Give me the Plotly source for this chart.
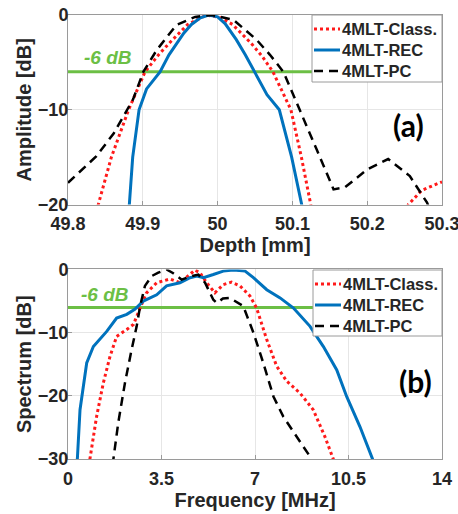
import plotly.graph_objects as go
from plotly.subplots import make_subplots

# ---------- Panel (a): axial profile ----------
rec_a_depth = [49.878, 49.882, 49.8865, 49.895, 49.905, 49.923, 49.935, 49.945, 49.955, 49.965, 49.977, 49.988,
               50.0, 50.01, 50.025, 50.037, 50.049, 50.066, 50.0825, 50.099, 50.1124, 50.116]
rec_a_db = [-22, -20, -15, -10, -7.8, -6, -4.2, -3, -1.9, -1, -0.3, 0,
            -0.2, -0.9, -2.6, -4.2, -6, -8.4, -10, -15, -20, -22]

cls_a_depth = [49.836, 49.8405, 49.858, 49.881, 49.903, 49.92, 49.935, 49.96, 49.985,
               50.005, 50.02, 50.045, 50.06, 50.074, 50.098, 50.112, 50.1245, 50.128,
               50.252, 50.255, 50.273, 50.288, 50.3]
cls_a_db = [-22, -20, -15, -10, -6, -4.3, -3, -1, 0,
            -0.3, -1, -3, -4.4, -6, -10, -15, -20, -22,
            -21, -20, -18.5, -18, -17.6]

pc_a_depth = [49.8, 49.838, 49.861, 49.887, 49.9007, 49.9186, 49.945, 49.97, 49.992, 50.021, 50.052,
              50.07, 50.088, 50.11, 50.1325, 50.155, 50.17, 50.2, 50.228, 50.257, 50.28, 50.286]
pc_a_db = [-17.7, -14.9, -12.5, -8.9, -6, -3.7, -1.05, -0.2, 0, -0.5, -2.6,
           -4.2, -6, -10, -14.2, -18.4, -18.2, -16.3, -15.2, -17, -19.8, -21]

# ---------- Panel (b): spectrum ----------
rec_b_f = [0.33, 0.35, 0.45, 0.7, 0.95, 1.45, 1.82, 2.2, 2.5, 2.82, 3.32, 3.69, 4.19, 4.57, 4.82, 5.07,
           5.44, 5.81, 6.19, 6.63, 6.94, 7.44, 7.94, 8.44, 9.06, 9.56, 10.06, 10.43, 10.93, 11.4, 11.45]
rec_b_db = [-31, -30, -22.2, -14.8, -12.2, -9.8, -7.7, -7.1, -6.3, -5.0, -4.0, -2.6, -2.1, -1.3, -1.05, -1.3,
            -0.8, -0.26, -0.1, -0.26, -1.3, -3.2, -4.5, -6.1, -9.0, -12.2, -15.9, -20.1, -24.9, -30, -31]

cls_b_f = [0.8, 0.82, 1.07, 1.32, 1.57, 1.82, 2.2, 2.45, 2.7, 2.94, 3.32, 3.82, 4.19, 4.5, 4.75, 4.94,
           5.19, 5.5, 5.81, 6.12, 6.44, 6.81, 7.06, 7.44, 7.81, 8.19, 8.69, 9.18, 9.62, 9.93, 9.97]
cls_b_db = [-31, -30, -23.3, -18, -13.8, -10.6, -9.5, -8.7, -6.1, -3.7, -2.1, -1.5, -2.1, -1.05, -0.1, -0.5,
            -2.1, -3.7, -2.4, -2.0, -2.6, -4.2, -6.1, -11.1, -15.3, -17.7, -19.6, -22.2, -26.5, -30, -31]

pc_b_f = [1.68, 1.70, 1.88, 2.13, 2.38, 2.57, 2.7, 2.88, 3.13, 3.38, 3.69, 3.94, 4.25, 4.62, 4.88, 5.13,
          5.44, 5.57, 5.8, 6.06, 6.56, 6.94, 7.31, 7.69, 8.06, 8.56, 9.12, 9.2]
pc_b_db = [-31, -30, -24.3, -18, -12.7, -9.0, -5.8, -2.6, -1.05, -0.5, 0, -0.6, -1.6, -1.05, -0.8, -2.1,
           -4.8, -5.3, -4.6, -4.5, -5.8, -10, -14.8, -20.1, -23.3, -26.5, -30, -31]

names = ["4MLT-Class.", "4MLT-REC", "4MLT-PC"]
x_ticks_a = [49.8, 49.9, 50, 50.1, 50.2, 50.3]
x_ticks_b = [0, 3.5, 7, 10.5, 14]

RED = "#ff1a1a"
BLUE = "#0072BD"
BLACK = "#000000"
GREEN = "#6cbf45"
AX = "#262626"
FRAME = "#9a9a9a"
FONT = "Liberation Sans"

W, H = 458, 514
ML, MR, MT, MB = 68, 16, 15, 55
PW, PH = W - ML - MR, H - MT - MB

fig = make_subplots(rows=2, cols=1, vertical_spacing=0.1463)

styles = [(RED, "dot", 3), (BLUE, "solid", 3), (BLACK, "9px,6px", 2.5)]

def add(x, y, k, row):
    c, d, w = styles[k]
    fig.add_trace(go.Scatter(x=x, y=y, mode="lines", name=names[k], showlegend=False,
                             line=dict(color=c, dash=d, width=w)), row=row, col=1)

add(cls_a_depth, cls_a_db, 0, 1)
add(rec_a_depth, rec_a_db, 1, 1)
add(pc_a_depth, pc_a_db, 2, 1)
add(cls_b_f, cls_b_db, 0, 2)
add(rec_b_f, rec_b_db, 1, 2)
add(pc_b_f, pc_b_db, 2, 2)

axis_common = dict(showline=True, linecolor=FRAME, linewidth=1, mirror=True,
                   ticks="inside", ticklen=4, tickcolor=FRAME, automargin=False,
                   ticklabeloverflow="allow",
                   showgrid=True, gridcolor="#e6e6e6", gridwidth=1, zeroline=False,
                   tickfont=dict(family=FONT, size=18, color=AX, weight="bold"))

fig.update_xaxes(**axis_common, ticklabelstandoff=3)
fig.update_yaxes(**axis_common, ticklabelstandoff=-5)

tfont = dict(family=FONT, size=20, color=AX, weight="bold")
fig.update_xaxes(range=[49.8, 50.3], tickvals=x_ticks_a, ticktext=["49.8", "49.9", "50", "50.1", "50.2", "50.3"],
                 title=dict(text="Depth [mm]", font=tfont, standoff=0), row=1, col=1)
fig.update_yaxes(range=[-20, 0], tickvals=[-20, -10, 0],
                 title=dict(text="Amplitude [dB]", font=tfont, standoff=0), row=1, col=1)
fig.update_xaxes(range=[0, 14], tickvals=x_ticks_b, ticktext=["0", "3.5", "7", "10.5", "14"],
                 title=dict(text="Frequency [MHz]", font=tfont, standoff=0), row=2, col=1)
fig.update_yaxes(range=[-30, 0], tickvals=[-30, -20, -10, 0],
                 title=dict(text="Spectrum [dB]", font=tfont, standoff=0), row=2, col=1)

# -6 dB lines
fig.add_shape(type="line", x0=49.8, x1=50.3, y0=-6, y1=-6, xref="x", yref="y",
              line=dict(color=GREEN, width=3), layer="between")
fig.add_shape(type="line", x0=0, x1=14, y0=-6, y1=-6, xref="x2", yref="y2",
              line=dict(color=GREEN, width=3), layer="between")

ann_font = dict(family=FONT, size=19, color=GREEN, weight="bold", style="italic")
fig.add_annotation(x=49.853, y=-4.5, xref="x", yref="y", text="-6 dB", showarrow=False, font=ann_font)
fig.add_annotation(x=1.39, y=-4.0, xref="x2", yref="y2", text="-6 dB", showarrow=False, font=ann_font)

lab_font = dict(family="Lato", size=30, color="#000000", weight="bold")
fig.add_annotation(x=50.255, y=-11.6, xref="x", yref="y", text="(a)", showarrow=False, font=lab_font)
fig.add_annotation(x=13.0, y=-17.7, xref="x2", yref="y2", text="(b)", showarrow=False, font=lab_font)

# ---------- MATLAB-style legends (box + samples + labels, in paper coords) ----------
def px(xp):
    return (xp - ML) / PW

def py(yp):
    return (H - MB - yp) / PH

def legend_box(left, top, bottom):
    fig.add_shape(type="rect", xref="paper", yref="paper",
                  x0=px(left), x1=px(W - MR), y0=py(bottom), y1=py(top),
                  fillcolor="white", line=dict(color=FRAME, width=1), layer="above")
    for k in range(3):
        yy = top + 14 + 21 * k
        c, d, w = styles[k]
        fig.add_shape(type="line", xref="paper", yref="paper",
                      x0=px(left + 2), x1=px(left + 28), y0=py(yy), y1=py(yy),
                      line=dict(color=c, dash=d, width=w), layer="above")
        fig.add_annotation(xref="paper", yref="paper", x=px(left + 28), y=py(yy),
                           xanchor="left", yanchor="middle", text=names[k], showarrow=False,
                           font=dict(family=FONT, size=16.5, color=AX, weight="bold"))

legend_box(312, 15, 82)
legend_box(313, 270, 336)

fig.update_layout(
    width=W, height=H,
    margin=dict(l=ML, r=MR, t=MT, b=MB),
    paper_bgcolor="white", plot_bgcolor="white",
    showlegend=False,
)

fig.write_html("out.html", config={"displayModeBar": False},
               post_script="document.body.style.margin='0';")
